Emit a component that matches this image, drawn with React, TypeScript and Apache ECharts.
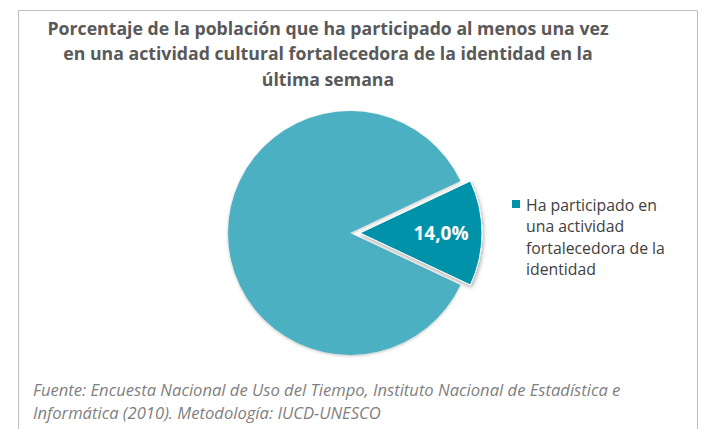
import React, { useEffect, useRef } from "react";
import * as echarts from "echarts";

const titleLines = [
  "Porcentaje de la población que ha participado al menos una vez",
  "en una actividad cultural fortalecedora de la identidad en la",
  "última semana",
];
const categories = [
  "Ha participado en una actividad fortalecedora de la identidad",
  "No ha participado",
];
const values = [14.0, 86.0];
const legendLines = ["Ha participado en", "una actividad", "fortalecedora de la", "identidad"];
const sourceLines = [
  "Fuente: Encuesta Nacional de Uso del Tiempo, Instituto Nacional de Estadística e",
  "Informática (2010). Metodología: IUCD-UNESCO",
];
const colors = ["#0092A9", "#4BB0C1"];

export default function App() {
  const ref = useRef<HTMLDivElement>(null);
  useEffect(() => {
    if (!ref.current) return;
    const chart = echarts.init(ref.current, null, { renderer: "svg" });
    const startAngle = (values[0] / 100) * 360 / 2;
    chart.setOption({
      animation: false,
      backgroundColor: "#ffffff",
      title: {
        text: titleLines.join("\n"),
        left: 323,
        textAlign: "center",
        top: 10,
        textStyle: {
          fontFamily: "Open Sans",
          fontWeight: "bold",
          fontSize: 17.7,
          lineHeight: 25.5,
          color: "#595959",
        },
      },
      legend: {
        data: [categories[0]],
        left: 505,
        top: 188,
        orient: "vertical",
        itemWidth: 10,
        itemHeight: 86,
        itemGap: 0,
        symbolKeepAspect: false,
        icon: "path://M0 0H0.01V0.01H0Z M0 5H10V15H0Z M0 86H0.01V86.01H0Z",
        formatter: () => legendLines.join("\n"),
        textStyle: {
          fontFamily: "Open Sans",
          fontSize: 15.8,
          lineHeight: 21.6,
          color: "#404040",
        },
        align: "left",
      },
      graphic: [
        {
          type: "rect",
          shape: { x: 18.5, y: 10.5, width: 679, height: 440 },
          style: { fill: "none", stroke: "#BFBFBF", lineWidth: 1 },
          z: -1,
        },
        {
          type: "text",
          left: 33,
          top: 378,
          style: {
            text: sourceLines.join("\n"),
            fontFamily: "Open Sans",
            fontStyle: "italic",
            fontSize: 16.6,
            lineHeight: 23,
            fill: "#7F7F7F",
          },
        },
      ],
      series: [
        {
          type: "pie",
          center: [350, 233],
          radius: 122,
          startAngle,
          clockwise: true,
          selectedMode: "single",
          selectedOffset: 10,
          label: { show: false },
          labelLine: { show: false },
          data: [
            {
              name: categories[0],
              value: values[0],
              selected: true,
              itemStyle: {
                color: colors[0],
                borderColor: "#ffffff",
                borderWidth: 1,
                shadowColor: "rgba(0,0,0,0.35)",
                shadowBlur: 4,
                shadowOffsetX: 1,
                shadowOffsetY: 2,
              },
              label: {
                show: true,
                position: "inside",
                formatter: (p: any) => p.value.toFixed(1).replace(".", ",") + "%",
                color: "#ffffff",
                fontFamily: "Open Sans",
                fontWeight: "bold",
                fontSize: 19,
                padding: [0, 0, 8, 34],
              },
            },
            {
              name: categories[1],
              value: values[1],
              itemStyle: {
                color: colors[1],
                shadowColor: "rgba(0,0,0,0.25)",
                shadowBlur: 3,
                shadowOffsetY: 1,
              },
            },
          ],
        },
      ],
    });
    return () => chart.dispose();
  }, []);
  return (
    <div
      ref={ref}
      style={{ position: "fixed", left: 0, top: 0, width: 706, height: 429 }}
    />
  );
}
